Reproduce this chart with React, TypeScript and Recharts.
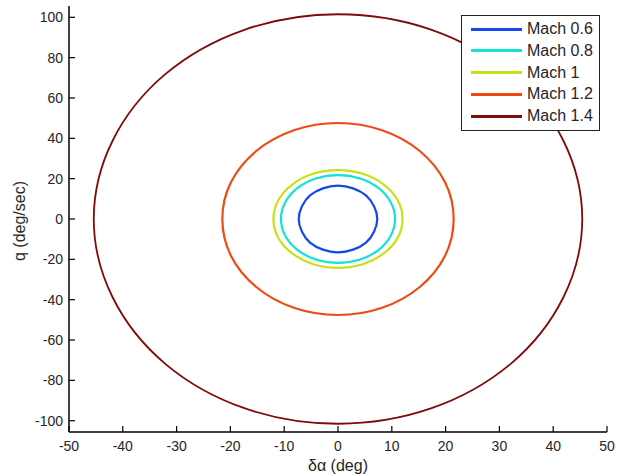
import React from 'react';
import { ScatterChart, Scatter, XAxis, YAxis, Legend, Label } from 'recharts';

// Series names and colours
const seriesNames = ['Mach 0.6', 'Mach 0.8', 'Mach 1', 'Mach 1.2', 'Mach 1.4'];
const seriesColors = ['#1448ec', '#14e2d2', '#c8e014', '#f04a14', '#800a0a'];

// Points read from the trajectories (δα, q), traced around each closed curve
const mach06X = [7.3, 6.7, 5.2, 2.8, 0, -2.8, -5.2, -6.7, -7.3, -6.7, -5.2, -2.8, 0, 2.8, 5.2, 6.7];
const mach06Y = [0, 6.3, 11.7, 15.2, 16.5, 15.2, 11.7, 6.3, 0, -6.3, -11.7, -15.2, -16.5, -15.2, -11.7, -6.3];

const mach08X = [10.6, 9.8, 7.5, 4.1, 0, -4.1, -7.5, -9.8, -10.6, -9.8, -7.5, -4.1, 0, 4.1, 7.5, 9.8];
const mach08Y = [0, 8.3, 15.4, 20.1, 21.8, 20.1, 15.4, 8.3, 0, -8.3, -15.4, -20.1, -21.8, -20.1, -15.4, -8.3];

const mach10X = [12.0, 11.1, 8.5, 4.6, 0, -4.6, -8.5, -11.1, -12.0, -11.1, -8.5, -4.6, 0, 4.6, 8.5, 11.1];
const mach10Y = [0, 9.3, 17.1, 22.4, 24.2, 22.4, 17.1, 9.3, 0, -9.3, -17.1, -22.4, -24.2, -22.4, -17.1, -9.3];

const mach12X = [21.5, 19.9, 15.2, 8.2, 0, -8.2, -15.2, -19.9, -21.5, -19.9, -15.2, -8.2, 0, 8.2, 15.2, 19.9];
const mach12Y = [0, 18.2, 33.7, 44.0, 47.6, 44.0, 33.7, 18.2, 0, -18.2, -33.7, -44.0, -47.6, -44.0, -33.7, -18.2];

const mach14X = [45.4, 41.9, 32.1, 17.4, 0, -17.4, -32.1, -41.9, -45.4, -41.9, -32.1, -17.4, 0, 17.4, 32.1, 41.9];
const mach14Y = [0, 38.8, 71.8, 93.8, 101.5, 93.8, 71.8, 38.8, 0, -38.8, -71.8, -93.8, -101.5, -93.8, -71.8, -38.8];

// Axis ticks
const xTicks = [-50, -40, -30, -20, -10, 0, 10, 20, 30, 40, 50];
const yTicks = [-100, -80, -60, -40, -20, 0, 20, 40, 60, 80, 100];

const seriesX = [mach06X, mach08X, mach10X, mach12X, mach14X];
const seriesY = [mach06Y, mach08Y, mach10Y, mach12Y, mach14Y];
const seriesData = seriesX.map((xs, i) => xs.map((x, j) => ({ x, y: seriesY[i][j] })));

// Closed Catmull-Rom curve factory (d3-shape curve interface) for smooth loops
const closedSmooth = (context: any) => {
  let pts: [number, number][] = [];
  return {
    areaStart() {},
    areaEnd() {},
    lineStart() {
      pts = [];
    },
    point(x: number, y: number) {
      pts.push([+x, +y]);
    },
    lineEnd() {
      const n = pts.length;
      if (n === 0) return;
      const p = (i: number) => pts[((i % n) + n) % n];
      context.moveTo(pts[0][0], pts[0][1]);
      for (let i = 0; i < n; i++) {
        const p0 = p(i - 1);
        const p1 = p(i);
        const p2 = p(i + 1);
        const p3 = p(i + 2);
        context.bezierCurveTo(
          p1[0] + (p2[0] - p0[0]) / 6,
          p1[1] + (p2[1] - p0[1]) / 6,
          p2[0] - (p3[0] - p1[0]) / 6,
          p2[1] - (p3[1] - p1[1]) / 6,
          p2[0],
          p2[1]
        );
      }
      context.closePath();
    },
  };
};

const FONT = '"Liberation Sans", Arial, sans-serif';
const TEXT = '#262626';
const Y_MARGIN = 6;
const X_MARGIN = 9;
const TICK_LEN = 6;

const YTick = (props: any) => {
  const { x, y, payload } = props;
  return (
    <g>
      <line x1={x + Y_MARGIN} x2={x + Y_MARGIN + TICK_LEN} y1={y} y2={y} stroke="#000" strokeWidth={1.2} />
      <text x={x} y={y} dy="0.36em" textAnchor="end" fontSize={14} fontFamily={FONT} fill={TEXT}>
        {payload.value}
      </text>
    </g>
  );
};

const XTick = (props: any) => {
  const { x, y, payload } = props;
  return (
    <g>
      <line x1={x} x2={x} y1={y - X_MARGIN} y2={y - X_MARGIN - TICK_LEN} stroke="#000" strokeWidth={1.2} />
      <text x={x} y={y} dy="0.71em" textAnchor="middle" fontSize={14} fontFamily={FONT} fill={TEXT}>
        {payload.value}
      </text>
    </g>
  );
};

const LegendBox = () => (
  <div
    style={{
      border: '1px solid #222',
      background: '#fff',
      width: 137,
      height: 114,
      boxSizing: 'content-box',
      padding: 0,
      position: 'relative',
      fontFamily: FONT,
    }}
  >
    {seriesNames.map((name, i) => (
      <div
        key={name}
        style={{
          position: 'absolute',
          left: 9,
          top: 2 + i * 21.8,
          height: 22,
          display: 'flex',
          alignItems: 'center',
          whiteSpace: 'nowrap',
        }}
      >
        <div style={{ width: 51, height: 3, background: seriesColors[i], marginRight: 5 }} />
        <span style={{ fontSize: 16, color: TEXT }}>{name}</span>
      </div>
    ))}
  </div>
);

export default function App() {
  return (
    <div style={{ position: 'absolute', left: 0, top: 0, background: '#fff' }}>
      <ScatterChart width={625} height={476} margin={{ top: 6, right: 18, bottom: 0, left: 0 }}>
        <XAxis
          type="number"
          dataKey="x"
          domain={[-50, 50]}
          ticks={xTicks}
          allowDataOverflow
          height={44}
          tickSize={0}
          tickMargin={X_MARGIN}
          tickLine={false}
          tick={XTick}
          axisLine={{ stroke: '#000', strokeWidth: 1.5 }}
        >
          <Label
            content={() => (
              <text x={338} y={471} textAnchor="middle" fontSize={16} fontFamily={FONT} fill={TEXT}>
                δα (deg)
              </text>
            )}
          />
        </XAxis>
        <YAxis
          type="number"
          dataKey="y"
          domain={[-105.6, 105.6]}
          ticks={yTicks}
          allowDataOverflow
          width={69}
          tickSize={0}
          tickMargin={Y_MARGIN}
          tickLine={false}
          tick={YTick}
          axisLine={{ stroke: '#000', strokeWidth: 1.5 }}
        >
          <Label
            content={() => (
              <text
                x={25}
                y={221}
                transform="rotate(-90, 25, 221)"
                textAnchor="middle"
                fontSize={16}
                fontFamily={FONT}
                fill={TEXT}
              >
                q (deg/sec)
              </text>
            )}
          />
        </YAxis>
        {seriesData.map((data, i) => (
          <Scatter
            key={seriesNames[i]}
            name={seriesNames[i]}
            data={data}
            line={{ stroke: seriesColors[i], strokeWidth: i === 4 ? 1.8 : 2.2 }}
            lineJointType={closedSmooth as any}
            shape={() => <g />}
            isAnimationActive={false}
          />
        ))}
        <Legend
          layout="vertical"
          align="center"
          verticalAlign="middle"
          content={() => <LegendBox />}
          wrapperStyle={{ position: 'absolute', left: 461, top: 15, width: 139, height: 116 }}
        />
      </ScatterChart>
    </div>
  );
}
